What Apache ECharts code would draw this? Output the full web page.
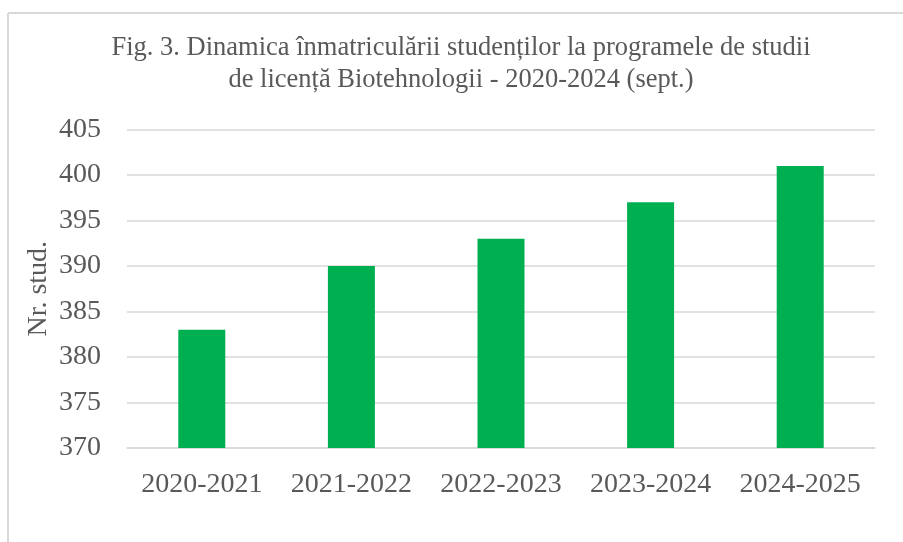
<!DOCTYPE html>
<html lang="ro">
<head>
    <meta charset="UTF-8">
    <title>Fig. 3 - Biotehnologii</title>
    <script src="https://cdn.jsdelivr.net/npm/echarts@6/dist/echarts.min.js"></script>
    <style>
        html, body { margin: 0; padding: 0; background: #fff; }
    </style>
</head>
<body>
<div id="main" style="width: 903px; height: 542px;"></div>
<script type="text/javascript">
    // date
    var anii = ['2020-2021', '2021-2022', '2022-2023', '2023-2024', '2024-2025'];
    var studenti = [383, 390, 393, 397, 401];

    var serif = '"Liberation Serif", "DejaVu Serif", serif';
    var gri = '#595959';

    var myChart = echarts.init(document.getElementById('main'));
    var option = {
        backgroundColor: '#fff',
        animation: false,
        title: {
            text: 'Fig. 3. Dinamica înmatriculării studenților la programele de studii\nde licență Biotehnologii - 2020-2024 (sept.)',
            left: 461,
            top: 32,
            padding: 0,
            textAlign: 'center',
            textStyle: {
                fontFamily: serif,
                fontSize: 26.5,
                fontWeight: 'normal',
                color: gri,
                lineHeight: 32
            }
        },
        // chenarul graficului (doar sus si stanga se vad)
        graphic: [
            { type: 'line', shape: { x1: 8, y1: 13, x2: 903, y2: 13 }, style: { stroke: '#d9d9d9', lineWidth: 2 } },
            { type: 'line', shape: { x1: 8, y1: 13, x2: 8, y2: 542 }, style: { stroke: '#d9d9d9', lineWidth: 2 } }
        ],
        grid: {
            left: 127,
            right: 28,
            top: 129.5,
            bottom: 94
        },
        xAxis: {
            type: 'category',
            data: anii,
            axisTick: { show: false },
            axisLine: { lineStyle: { color: '#d9d9d9', width: 1.5 } },
            axisLabel: {
                interval: 0,
                fontFamily: serif,
                fontSize: 28,
                color: gri,
                margin: 23
            }
        },
        yAxis: {
            type: 'value',
            min: 370,
            max: 405,
            interval: 5,
            name: 'Nr. stud.',
            nameLocation: 'middle',
            nameGap: 74,
            nameMoveOverlap: false,
            nameTextStyle: {
                fontFamily: serif,
                fontSize: 28,
                color: gri
            },
            axisLine: { show: false },
            axisTick: { show: false },
            axisLabel: {
                fontFamily: serif,
                fontSize: 28,
                color: gri,
                margin: 26
            },
            splitLine: { lineStyle: { color: '#d9d9d9', width: 1.5 } }
        },
        series: [{
            type: 'bar',
            data: studenti,
            barWidth: 47,
            itemStyle: { color: '#00B050' }
        }]
    };
    myChart.setOption(option);
</script>
</body>
</html>
